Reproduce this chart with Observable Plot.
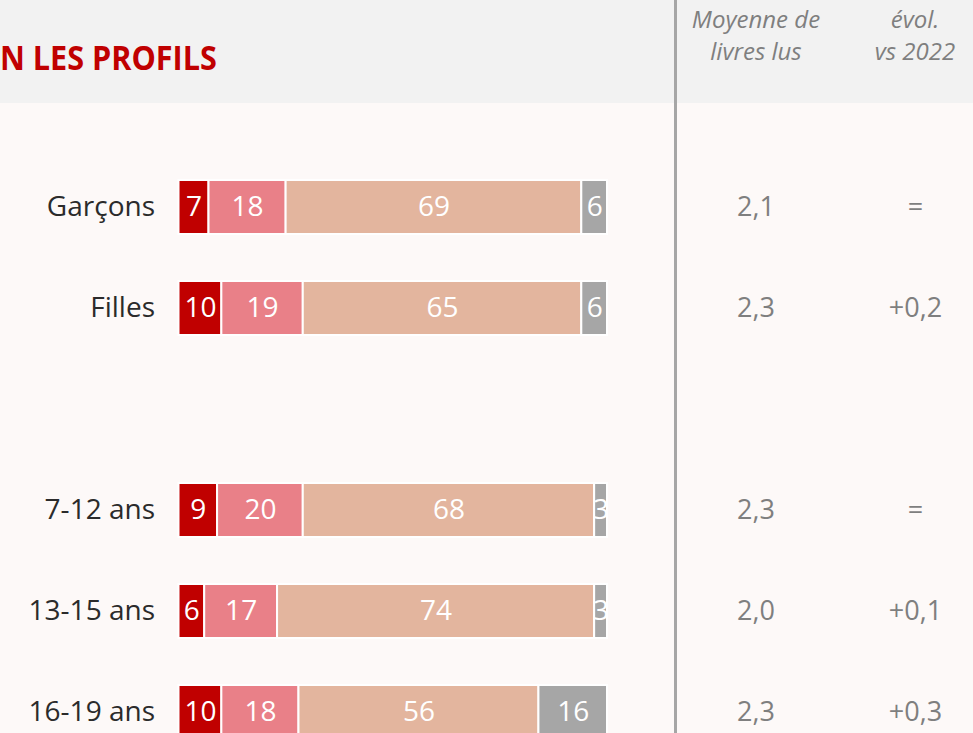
<!DOCTYPE html>
<html><head><meta charset="utf-8">
<script src="https://cdn.jsdelivr.net/npm/d3@7"></script>
<script src="https://cdn.jsdelivr.net/npm/@observablehq/plot@0.6"></script>
<style>
html,body{margin:0;padding:0;overflow:hidden;background:#fdf9f8;}
#page{position:relative;width:973px;height:733px;overflow:hidden;background:#fdf9f8;}
#header{position:absolute;left:0;top:0;width:973px;height:103px;background:#f2f2f2;}
#title{position:absolute;left:0;top:37px;line-height:40px;font-family:"Open Sans",sans-serif;font-weight:700;color:#c00000;font-size:34px;transform:scaleX(0.9);transform-origin:left center;white-space:nowrap;}
.colhead{position:absolute;top:3px;width:190px;margin-left:-95px;text-align:center;font-family:"Open Sans",sans-serif;font-style:italic;color:#7f7f7f;font-size:24px;line-height:32px;}
#divider{position:absolute;left:674px;top:0;width:3px;height:733px;background:#a6a6a6;z-index:5;}
#chart{position:absolute;left:0;top:103px;width:973px;height:630px;overflow:hidden;}
</style>
</head><body>
<div id="page">
  <div id="header">
    <div id="title">N LES PROFILS</div>
    <div class="colhead" id="h1" style="left:756px">Moyenne de<br>livres lus</div>
    <div class="colhead" id="h2" style="left:915px">évol.<br>vs 2022</div>
  </div>
  <div id="chart"></div>
  <div id="divider"></div>
</div>
<script>
// Rows (blank spacer row separates sex from age groups)
const rows = ["Garçons", "Filles", " ", "7-12 ans", "13-15 ans", "16-19 ans"];
const groups = ["Garçons", "Filles", "7-12 ans", "13-15 ans", "16-19 ans"];
const segments = ["seg1", "seg2", "seg3", "seg4"];
const seg1 = [7, 10, 9, 6, 10];
const seg2 = [18, 19, 20, 17, 18];
const seg3 = [69, 65, 68, 74, 56];
const seg4 = [6, 6, 3, 3, 16];
const moyenne = ["2,1", "2,3", "2,3", "2,0", "2,3"];
const evolution = ["=", "+0,2", "=", "+0,1", "+0,3"];
const segColors = ["#c00000", "#e98088", "#e3b59e", "#a6a6a6"];

const series = [seg1, seg2, seg3, seg4];
const data = [];
groups.forEach((g, i) => {
  series.forEach((s, j) => data.push({group: g, seg: segments[j], value: s[i]}));
});
const table = groups.map((g, i) => ({group: g, moyenne: moyenne[i], evol: evolution[i]}));

const chart = Plot.plot({
  width: 973,
  height: 630,
  marginLeft: 178.5,
  marginRight: 366,
  marginTop: 0,
  marginBottom: 0,
  style: {background: "transparent", color: "#2b2b2b", fontFamily: "'Open Sans', sans-serif", overflow: "hidden"},
  x: {domain: [0, 100], axis: null},
  y: {domain: rows, range: [52.5, 660.3], paddingInner: 0.462, paddingOuter: 0.231, axis: null},
  color: {domain: segments, range: segColors},
  marks: [
    Plot.barX(data, Plot.stackX({x: "value", y: "group", fill: "seg", order: null, stroke: "white", strokeWidth: 2})),
    Plot.textX(data, Plot.stackX({x: "value", y: "group", z: "seg", order: null, text: d => String(d.value), fill: "white", fontSize: 28, clip: true})),
    Plot.axisY({tickSize: 0, tickPadding: 24, fontSize: 28, label: null, tickFormat: d => d.trim(), fill: "#2b2b2b"}),
    Plot.text(table, {y: "group", text: "moyenne", frameAnchor: "right", dx: 148.5, textAnchor: "middle", fill: "#7f7f7f", fontSize: 27}),
    Plot.text(table, {y: "group", text: "evol", frameAnchor: "right", dx: 308, textAnchor: "middle", fill: "#7f7f7f", fontSize: 27})
  ]
});
document.getElementById("chart").appendChild(chart);
</script>
</body></html>
